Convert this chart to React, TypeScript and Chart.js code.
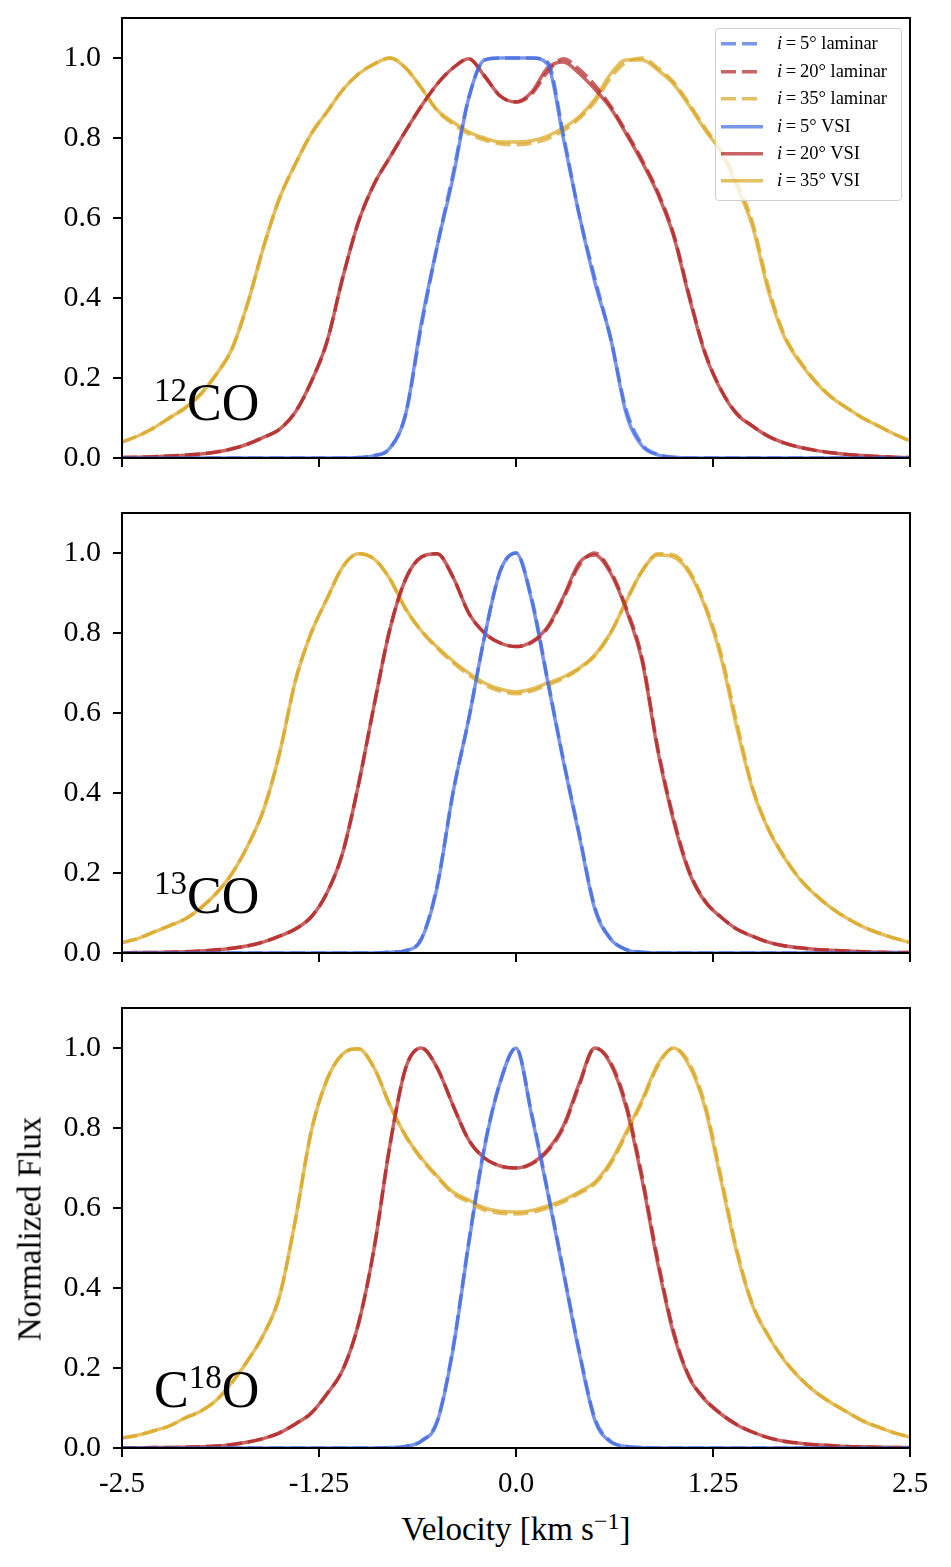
import { useEffect, useRef } from 'react';
import { Chart, registerables } from 'chart.js';

Chart.register(...registerables);
Chart.defaults.font.family = '"Liberation Serif", "Times New Roman", serif';

// velocity grid [km/s]
const velocity = [
    -2.5, -2.4, -2.3, -2.2, -2.1, -2.0, -1.9, -1.8, -1.7, -1.6,
    -1.5, -1.4, -1.3, -1.2, -1.1, -1.0, -0.9, -0.8, -0.7, -0.6,
    -0.5, -0.4, -0.3, -0.2, -0.1, 0.0, 0.1, 0.2, 0.3, 0.4,
    0.5, 0.6, 0.7, 0.8, 0.9, 1.0, 1.1, 1.2, 1.3, 1.4,
    1.5, 1.6, 1.7, 1.8, 1.9, 2.0, 2.1, 2.2, 2.3, 2.4, 2.5,
];

// 12CO
const co12BlueLam = [
    0, 0, 0, 0, 0, 0, 0, 0, 0, 0,
    0, 0, 0, 0, 0, 0.001, 0.006, 0.024, 0.11, 0.33,
    0.53, 0.71, 0.90, 0.995, 1.0, 1.0, 1.0, 0.99, 0.81, 0.61,
    0.45, 0.30, 0.12, 0.035, 0.009, 0.002, 0, 0, 0, 0,
    0, 0, 0, 0, 0, 0, 0, 0, 0, 0, 0,
];
const co12RedLam = [
    0.001, 0.002, 0.003, 0.005, 0.007, 0.01, 0.015, 0.023, 0.035, 0.052,
    0.072, 0.115, 0.19, 0.29, 0.45, 0.59, 0.685, 0.752, 0.818, 0.88,
    0.935, 0.975, 0.998, 0.955, 0.905, 0.89, 0.91, 0.965, 0.998, 0.972,
    0.932, 0.88, 0.815, 0.745, 0.665, 0.56, 0.405, 0.264, 0.172, 0.112,
    0.08, 0.055, 0.038, 0.027, 0.019, 0.013, 0.009, 0.006, 0.004, 0.002, 0.001,
];
const co12GoldLam = [
    0.04, 0.055, 0.075, 0.10, 0.125, 0.16, 0.21, 0.275, 0.39, 0.53,
    0.65, 0.735, 0.81, 0.865, 0.92, 0.96, 0.985, 1.0, 0.975, 0.925,
    0.868, 0.835, 0.81, 0.795, 0.785, 0.783, 0.787, 0.798, 0.818, 0.848,
    0.89, 0.95, 0.99, 1.0, 0.975, 0.94, 0.885, 0.825, 0.77, 0.69,
    0.59, 0.43, 0.31, 0.243, 0.192, 0.153, 0.125, 0.10, 0.08, 0.06, 0.043,
];
const co12BlueVsi = [
    0, 0, 0, 0, 0, 0, 0, 0, 0, 0,
    0, 0, 0, 0, 0, 0.001, 0.006, 0.025, 0.11, 0.34,
    0.53, 0.70, 0.90, 0.995, 1.0, 1.0, 1.0, 0.985, 0.80, 0.61,
    0.44, 0.30, 0.11, 0.03, 0.008, 0.002, 0, 0, 0, 0,
    0, 0, 0, 0, 0, 0, 0, 0, 0, 0, 0,
];
const co12RedVsi = [
    0.001, 0.002, 0.003, 0.005, 0.007, 0.01, 0.015, 0.023, 0.035, 0.052,
    0.072, 0.115, 0.19, 0.29, 0.45, 0.59, 0.685, 0.752, 0.818, 0.88,
    0.935, 0.975, 0.998, 0.955, 0.905, 0.89, 0.915, 0.975, 0.99, 0.962,
    0.922, 0.875, 0.81, 0.74, 0.66, 0.555, 0.40, 0.26, 0.17, 0.11,
    0.08, 0.054, 0.038, 0.027, 0.019, 0.013, 0.009, 0.006, 0.004, 0.002, 0.001,
];
const co12GoldVsi = [
    0.04, 0.055, 0.075, 0.10, 0.125, 0.16, 0.21, 0.275, 0.39, 0.53,
    0.65, 0.735, 0.81, 0.865, 0.92, 0.96, 0.985, 1.0, 0.975, 0.925,
    0.87, 0.84, 0.815, 0.80, 0.79, 0.79, 0.793, 0.805, 0.825, 0.853,
    0.897, 0.96, 0.995, 0.995, 0.97, 0.935, 0.88, 0.82, 0.765, 0.68,
    0.58, 0.42, 0.305, 0.24, 0.19, 0.152, 0.125, 0.10, 0.08, 0.06, 0.043,
];

// 13CO
const co13BlueLam = [
    0, 0, 0, 0, 0, 0, 0, 0, 0, 0,
    0, 0, 0, 0, 0, 0, 0, 0.002, 0.006, 0.036,
    0.17, 0.40, 0.585, 0.79, 0.955, 1.0, 0.885, 0.685, 0.485, 0.30,
    0.115, 0.036, 0.009, 0.002, 0, 0, 0, 0, 0, 0,
    0, 0, 0, 0, 0, 0, 0, 0, 0, 0, 0,
];
const co13RedLam = [
    0.0, 0.001, 0.001, 0.002, 0.003, 0.005, 0.008, 0.012, 0.018, 0.028,
    0.042, 0.06, 0.09, 0.15, 0.25, 0.42, 0.62, 0.81, 0.935, 0.99,
    0.998, 0.94, 0.85, 0.80, 0.775, 0.766, 0.776, 0.812, 0.885, 0.968,
    1.0, 0.955, 0.862, 0.738, 0.512, 0.337, 0.204, 0.13, 0.09, 0.06,
    0.042, 0.027, 0.018, 0.013, 0.009, 0.007, 0.005, 0.003, 0.002, 0.001, 0.001,
];
const co13GoldLam = [
    0.026, 0.036, 0.052, 0.068, 0.085, 0.113, 0.15, 0.20, 0.27, 0.36,
    0.50, 0.68, 0.80, 0.885, 0.965, 0.998, 0.985, 0.935, 0.86, 0.805,
    0.762, 0.726, 0.695, 0.67, 0.655, 0.648, 0.655, 0.67, 0.686, 0.71,
    0.743, 0.80, 0.88, 0.955, 0.998, 0.995, 0.955, 0.87, 0.75, 0.578,
    0.415, 0.312, 0.242, 0.186, 0.146, 0.113, 0.087, 0.066, 0.05, 0.037, 0.026,
];
const co13BlueVsi = [
    0, 0, 0, 0, 0, 0, 0, 0, 0, 0,
    0, 0, 0, 0, 0, 0, 0, 0.002, 0.006, 0.035,
    0.165, 0.40, 0.585, 0.79, 0.955, 1.0, 0.88, 0.68, 0.48, 0.295,
    0.11, 0.035, 0.008, 0.002, 0, 0, 0, 0, 0, 0,
    0, 0, 0, 0, 0, 0, 0, 0, 0, 0, 0,
];
const co13RedVsi = [
    0.0, 0.001, 0.001, 0.002, 0.003, 0.005, 0.008, 0.012, 0.018, 0.028,
    0.042, 0.06, 0.09, 0.15, 0.25, 0.42, 0.62, 0.81, 0.935, 0.99,
    0.998, 0.94, 0.85, 0.80, 0.775, 0.766, 0.778, 0.815, 0.89, 0.975,
    0.995, 0.95, 0.857, 0.73, 0.505, 0.33, 0.20, 0.128, 0.09, 0.06,
    0.042, 0.027, 0.018, 0.013, 0.009, 0.007, 0.005, 0.003, 0.002, 0.001, 0.001,
];
const co13GoldVsi = [
    0.026, 0.036, 0.052, 0.068, 0.085, 0.113, 0.15, 0.20, 0.27, 0.36,
    0.50, 0.68, 0.80, 0.885, 0.965, 0.998, 0.985, 0.935, 0.86, 0.805,
    0.765, 0.73, 0.70, 0.675, 0.66, 0.653, 0.66, 0.675, 0.69, 0.712,
    0.745, 0.80, 0.88, 0.955, 0.995, 0.99, 0.95, 0.865, 0.74, 0.565,
    0.41, 0.31, 0.24, 0.185, 0.145, 0.113, 0.087, 0.066, 0.05, 0.037, 0.026,
];

// C18O
const c18oBlueLam = [
    0, 0, 0, 0, 0, 0, 0, 0, 0, 0,
    0, 0, 0, 0, 0, 0, 0, 0.001, 0.004, 0.018,
    0.068, 0.25, 0.515, 0.755, 0.915, 1.0, 0.835, 0.645, 0.445, 0.245,
    0.075, 0.017, 0.004, 0.001, 0, 0, 0, 0, 0, 0,
    0, 0, 0, 0, 0, 0, 0, 0, 0, 0, 0,
];
const c18oRedLam = [
    0.0, 0.0, 0.001, 0.001, 0.002, 0.003, 0.005, 0.009, 0.015, 0.024,
    0.038, 0.06, 0.087, 0.135, 0.195, 0.31, 0.50, 0.757, 0.95, 1.0,
    0.95, 0.857, 0.77, 0.725, 0.705, 0.70, 0.71, 0.742, 0.80, 0.905,
    1.0, 0.965, 0.858, 0.68, 0.47, 0.292, 0.178, 0.122, 0.086, 0.059,
    0.04, 0.026, 0.017, 0.012, 0.008, 0.006, 0.004, 0.003, 0.002, 0.001, 0.001,
];
const c18oGoldLam = [
    0.025, 0.032, 0.043, 0.055, 0.075, 0.092, 0.12, 0.165, 0.22, 0.285,
    0.38, 0.57, 0.79, 0.92, 0.985, 0.998, 0.95, 0.857, 0.78, 0.722,
    0.677, 0.636, 0.615, 0.595, 0.587, 0.585, 0.589, 0.60, 0.615, 0.636,
    0.66, 0.71, 0.785, 0.865, 0.955, 1.0, 0.962, 0.858, 0.68, 0.497,
    0.36, 0.282, 0.222, 0.176, 0.14, 0.113, 0.09, 0.068, 0.052, 0.038, 0.027,
];
const c18oBlueVsi = [
    0, 0, 0, 0, 0, 0, 0, 0, 0, 0,
    0, 0, 0, 0, 0, 0, 0, 0.001, 0.004, 0.017,
    0.065, 0.245, 0.51, 0.75, 0.915, 1.0, 0.83, 0.64, 0.44, 0.24,
    0.07, 0.015, 0.004, 0.001, 0, 0, 0, 0, 0, 0,
    0, 0, 0, 0, 0, 0, 0, 0, 0, 0, 0,
];
const c18oRedVsi = [
    0.0, 0.0, 0.001, 0.001, 0.002, 0.003, 0.005, 0.009, 0.015, 0.024,
    0.038, 0.06, 0.087, 0.135, 0.195, 0.31, 0.50, 0.757, 0.95, 1.0,
    0.95, 0.857, 0.77, 0.725, 0.705, 0.70, 0.712, 0.745, 0.805, 0.91,
    1.0, 0.96, 0.85, 0.67, 0.46, 0.285, 0.175, 0.12, 0.085, 0.058,
    0.04, 0.026, 0.017, 0.012, 0.008, 0.006, 0.004, 0.003, 0.002, 0.001, 0.001,
];
const c18oGoldVsi = [
    0.025, 0.032, 0.043, 0.055, 0.075, 0.092, 0.12, 0.165, 0.22, 0.285,
    0.38, 0.57, 0.79, 0.92, 0.985, 0.998, 0.95, 0.857, 0.78, 0.725,
    0.68, 0.64, 0.62, 0.60, 0.592, 0.59, 0.594, 0.605, 0.62, 0.64,
    0.665, 0.715, 0.79, 0.87, 0.96, 1.0, 0.955, 0.85, 0.67, 0.49,
    0.357, 0.28, 0.22, 0.175, 0.14, 0.113, 0.09, 0.068, 0.052, 0.038, 0.027,
];

const inclinations = [5, 20, 35];
const models = ['laminar', 'VSI'];
const colors = ['rgba(65,105,225,0.7)', 'rgba(178,34,34,0.7)', 'rgba(218,165,32,0.7)'];

const xTicks = [-2.5, -1.25, 0, 1.25, 2.5];
const xTickLabels = ['-2.5', '-1.25', '0.0', '1.25', '2.5'];
const yTicks = [0, 0.2, 0.4, 0.6, 0.8, 1.0];
const yTickLabels = ['0.0', '0.2', '0.4', '0.6', '0.8', '1.0'];

const panels = [
    { top: 18, sup: '12', pre: '', post: 'CO', baseline: 420, laminar: [co12BlueLam, co12RedLam, co12GoldLam], vsi: [co12BlueVsi, co12RedVsi, co12GoldVsi] },
    { top: 513, sup: '13', pre: '', post: 'CO', baseline: 913, laminar: [co13BlueLam, co13RedLam, co13GoldLam], vsi: [co13BlueVsi, co13RedVsi, co13GoldVsi] },
    { top: 1008, sup: '18', pre: 'C', post: 'O', baseline: 1407, laminar: [c18oBlueLam, c18oRedLam, c18oGoldLam], vsi: [c18oBlueVsi, c18oRedVsi, c18oGoldVsi] },
];

const PLOT_H = 440;
const PAD_TOP = 30;
const AXIS_H = 50;
const DASH = [15, 6];
const SERIF = '"Liberation Serif", "Times New Roman", serif';

// box round the plot area, like matplotlib spines
const framePlugin = {
    id: 'frame',
    afterDraw(chart: Chart) {
        const { ctx, chartArea: a } = chart;
        ctx.save();
        ctx.strokeStyle = '#000';
        ctx.lineWidth = 2;
        ctx.strokeRect(a.left, a.top, a.right - a.left, a.bottom - a.top);
        ctx.restore();
    },
};

function Panel({ panel, showLabels }: { panel: typeof panels[number]; showLabels: boolean }) {
    const chartRef = useRef<HTMLCanvasElement>(null);

    useEffect(() => {
        if (!chartRef.current) return;

        const datasets: any[] = [];
        [panel.laminar, panel.vsi].forEach((group, m) => {
            group.forEach((values, k) => {
                datasets.push({
                    label: `i=${inclinations[k]}° ${models[m]}`,
                    data: velocity.map((v, i) => ({ x: v, y: values[i] })),
                    borderColor: colors[k],
                    borderWidth: 3.5,
                    borderDash: m === 0 ? DASH : [],
                    pointRadius: 0,
                    fill: false,
                    cubicInterpolationMode: 'monotone',
                });
            });
        });

        const tickGrid = { drawOnChartArea: false, drawTicks: true, tickLength: 9, color: '#000', lineWidth: 2 };

        const chart = new Chart(chartRef.current, {
            type: 'line',
            data: { datasets },
            options: {
                animation: false,
                responsive: true,
                maintainAspectRatio: false,
                events: [],
                layout: { padding: { top: PAD_TOP, right: 41, left: 0, bottom: 0 } },
                plugins: { legend: { display: false }, tooltip: { enabled: false } },
                scales: {
                    x: {
                        type: 'linear',
                        min: -2.5,
                        max: 2.5,
                        afterBuildTicks: (s: any) => { s.ticks = xTicks.map(v => ({ value: v })); },
                        afterFit: (s: any) => { s.height = AXIS_H; },
                        ticks: {
                            color: '#000',
                            font: { size: 29 },
                            padding: 10,
                            maxRotation: 0,
                            autoSkip: false,
                            callback: (_v: any, i: number) => (showLabels ? xTickLabels[i] : ''),
                        },
                        grid: tickGrid,
                        border: { display: false },
                    },
                    y: {
                        min: 0,
                        max: 1.1,
                        afterBuildTicks: (s: any) => { s.ticks = yTicks.map(v => ({ value: v })); },
                        afterFit: (s: any) => { s.width = 122; },
                        ticks: {
                            color: '#000',
                            font: { size: 30 },
                            padding: 12,
                            callback: (_v: any, i: number) => yTickLabels[i],
                        },
                        grid: tickGrid,
                        border: { display: false },
                    },
                },
            },
            plugins: [framePlugin],
        } as any);

        return () => chart.destroy();
    }, [panel, showLabels]);

    return (
        <div style={{ position: 'absolute', left: 0, top: panel.top - PAD_TOP, width: 951, height: PAD_TOP + PLOT_H + AXIS_H }}>
            <canvas ref={chartRef}></canvas>
        </div>
    );
}

function Legend() {
    const rows: { k: number; m: number }[] = [];
    models.forEach((_, m) => inclinations.forEach((_, k) => rows.push({ k, m })));
    return (
        <>
            <div style={{
                position: 'absolute', left: 715, top: 28, width: 187, height: 173, boxSizing: 'border-box',
                border: '1.5px solid #cfcfcf', borderRadius: 4, background: 'rgba(255,255,255,0.8)',
            }} />
            {rows.map(({ k, m }, r) => {
                const top = 44 + r * 27.4 - 13.7;
                return (
                    <div key={r} style={{ position: 'absolute', left: 721, top, height: 27.4, display: 'flex', alignItems: 'center' }}>
                        <svg width={42} height={27.4} style={{ display: 'block' }}>
                            <line x1={0} y1={13.7} x2={42} y2={13.7} stroke={colors[k]} strokeWidth={3.5}
                                strokeDasharray={m === 0 ? DASH.join(' ') : undefined} />
                        </svg>
                        <span style={{ marginLeft: 14, font: `18.5px ${SERIF}`, lineHeight: '27.4px', whiteSpace: 'nowrap' }}>
                            <i>i</i>{'\u2009=\u2009'}{inclinations[k]}° {models[m]}
                        </span>
                    </div>
                );
            })}
        </>
    );
}

export default function App() {
    return (
        <div style={{ position: 'absolute', left: 0, top: 0, width: 951, height: 1567, background: '#fff', overflow: 'hidden' }}>
            {panels.map((p, i) => (
                <Panel key={i} panel={p} showLabels={i === panels.length - 1} />
            ))}
            {panels.map((p, i) => (
                <div key={`iso${i}`} style={{
                    position: 'absolute', left: 154, top: p.baseline - 43.5,
                    font: `52px ${SERIF}`, lineHeight: '52px', whiteSpace: 'nowrap',
                }}>
                    {p.pre}<span style={{ fontSize: 33, position: 'relative', top: -19 }}>{p.sup}</span>{p.post}
                </div>
            ))}
            <Legend />
            <div style={{
                position: 'absolute', left: 0, width: 1032, top: 1513, textAlign: 'center',
                font: `33px ${SERIF}`, lineHeight: '33px', whiteSpace: 'nowrap',
            }}>
                Velocity [km s<span style={{ fontSize: 24, position: 'relative', top: -11 }}>−1</span>]
            </div>
            <div style={{
                position: 'absolute', left: 30, top: 1229, transform: 'translate(-50%, -50%) rotate(-90deg)',
                font: `33px ${SERIF}`, lineHeight: '33px', whiteSpace: 'nowrap',
            }}>
                Normalized Flux
            </div>
        </div>
    );
}
